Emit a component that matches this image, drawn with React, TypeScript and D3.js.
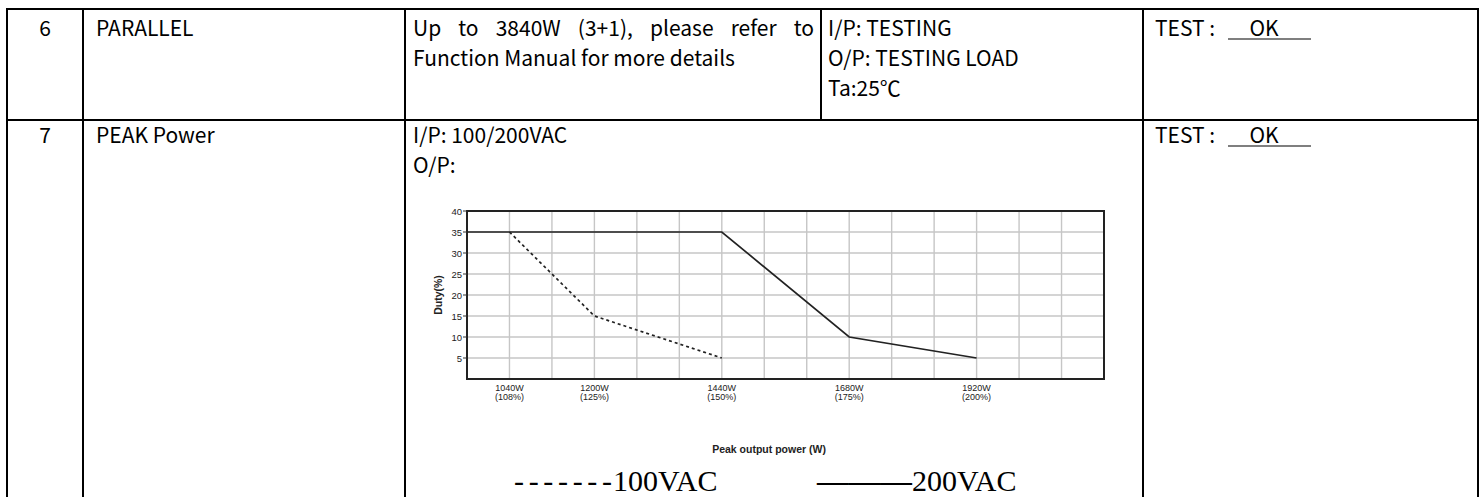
import React, { useEffect, useRef } from 'react';
import * as d3 from 'd3';

// ---------- data ----------
const xTickPower = [1040, 1200, 1440, 1680, 1920];
const xTickLabels = ['1040W', '1200W', '1440W', '1680W', '1920W'];
const xTickPct = ['(108%)', '(125%)', '(150%)', '(175%)', '(200%)'];
const yTicks = [5, 10, 15, 20, 25, 30, 35, 40];
const power100 = [1040, 1200, 1440];
const duty100 = [35, 15, 5];
const power200 = [960, 1440, 1680, 1920];
const duty200 = [35, 35, 10, 5];
const xDomain = [960, 2160];
const yDomain = [0, 40];
const xGridStep = 80;

const row1Items = ['6', 'PARALLEL'];
const row1Spec1 = ['Up', 'to', '3840W', '(3+1),', 'please', 'refer', 'to'];
const row1Spec2 = 'Function Manual for more details';
const row1Cond = ['I/P: TESTING', 'O/P: TESTING LOAD', 'Ta:25℃'];
const row2Items = ['7', 'PEAK Power'];
const row2Spec = ['I/P: 100/200VAC', 'O/P:'];
const resultLabel = 'TEST :';
const resultValue = 'OK';
const legendLabels = ['100VAC', '200VAC'];
const legendDash = ['-------', '———'];

const W = 1480, H = 497;
const TABLE_FONT = "'Noto Sans CJK TC', 'Noto Sans', sans-serif";
const CHART_FONT = "'Liberation Sans Narrow', 'Liberation Sans', Arial, sans-serif";

export default function App() {
  const ref = useRef<SVGSVGElement>(null);
  useEffect(() => {
    const svg = d3.select(ref.current);
    svg.selectAll('*').remove();

    // ---------- table ----------
    const colX = [7, 83, 405, 821, 1143, 1478];
    const rowY = [9, 120];
    const g = svg.append('g');
    const lw = 2;
    rowY.forEach((y) => {
      g.append('line').attr('x1', colX[0] - 1).attr('x2', colX[5] + 1).attr('y1', y).attr('y2', y)
        .attr('stroke', '#000').attr('stroke-width', lw);
    });
    colX.forEach((x, i) => {
      const y2 = i === 3 ? rowY[1] : H;
      g.append('line').attr('x1', x).attr('x2', x).attr('y1', rowY[0] - 1).attr('y2', y2)
        .attr('stroke', '#000').attr('stroke-width', lw);
    });

    const FS = 21;
    const txt = (x: number, y: number, s: string, anchor = 'start') =>
      g.append('text').attr('x', x).attr('y', y).attr('text-anchor', anchor)
        .attr('dominant-baseline', 'central')
        .attr('font-family', TABLE_FONT).attr('font-size', FS).attr('fill', '#000').text(s);

    const lineY1 = [27, 57, 87];
    const lineY2 = [134, 164];
    txt((colX[0] + colX[1]) / 2, lineY1[0], row1Items[0], 'middle');
    txt(96, lineY1[0], row1Items[1]);
    // justified first line
    const left = 413, right = 814;
    const words = row1Spec1.map((w) => txt(0, lineY1[0], w));
    const widths = words.map((w) => (w.node() as SVGTextElement).getComputedTextLength());
    const total = d3.sum(widths);
    const gap = (right - left - total) / (words.length - 1);
    let cx = left;
    words.forEach((w, i) => { w.attr('x', cx); cx += widths[i] + gap; });
    txt(left, lineY1[1], row1Spec2);
    row1Cond.forEach((s, i) => txt(828, lineY1[i], s));
    // result
    const res = (y: number) => {
      txt(1155, y, resultLabel);
      txt(1264, y, resultValue, 'middle');
      g.append('line').attr('x1', 1228).attr('x2', 1311).attr('y1', y + 12).attr('y2', y + 12)
        .attr('stroke', '#000').attr('stroke-width', 1.2);
    };
    res(lineY1[0]);
    res(lineY2[0]);

    txt((colX[0] + colX[1]) / 2, lineY2[0], row2Items[0], 'middle');
    txt(96, lineY2[0], row2Items[1]);
    row2Spec.forEach((s, i) => txt(413, lineY2[i], s));

    // ---------- chart ----------
    const x = d3.scaleLinear().domain(xDomain).range([467, 1104]);
    const y = d3.scaleLinear().domain(yDomain).range([379, 211]);
    const c = svg.append('g');
    const gridX = d3.range(xDomain[0] + xGridStep, xDomain[1], xGridStep);
    c.selectAll('.gx').data(gridX).join('line')
      .attr('x1', (d) => x(d)).attr('x2', (d) => x(d)).attr('y1', y(40)).attr('y2', y(0))
      .attr('stroke', '#c6c6c6').attr('stroke-width', 1.4);
    c.selectAll('.gy').data(yTicks.filter((d) => d < 40)).join('line')
      .attr('x1', x(xDomain[0])).attr('x2', x(xDomain[1])).attr('y1', (d) => y(d)).attr('y2', (d) => y(d))
      .attr('stroke', '#c6c6c6').attr('stroke-width', 1.4);
    // frame
    c.append('rect').attr('x', x(xDomain[0])).attr('y', y(40))
      .attr('width', x(xDomain[1]) - x(xDomain[0])).attr('height', y(0) - y(40))
      .attr('fill', 'none').attr('stroke', '#222').attr('stroke-width', 2);
    // y ticks
    c.selectAll('.yt').data(yTicks).join('line')
      .attr('x1', x(xDomain[0]) - 4).attr('x2', x(xDomain[0])).attr('y1', (d) => y(d)).attr('y2', (d) => y(d))
      .attr('stroke', '#333').attr('stroke-width', 1);
    c.selectAll('.yl').data(yTicks).join('text')
      .attr('x', x(xDomain[0]) - 5).attr('y', (d) => y(d)).attr('text-anchor', 'end')
      .attr('dominant-baseline', 'central').attr('font-family', CHART_FONT).attr('font-size', 9.5)
      .attr('fill', '#222').text((d) => d);
    // x labels
    c.selectAll('.xl').data(xTickPower).join('text')
      .attr('x', (d) => x(d)).attr('y', 388).attr('text-anchor', 'middle')
      .attr('dominant-baseline', 'central').attr('font-family', CHART_FONT).attr('font-size', 9)
      .attr('fill', '#222').text((d, i) => xTickLabels[i]);
    c.selectAll('.xp').data(xTickPower).join('text')
      .attr('x', (d) => x(d)).attr('y', 397).attr('text-anchor', 'middle')
      .attr('dominant-baseline', 'central').attr('font-family', CHART_FONT).attr('font-size', 9)
      .attr('fill', '#222').text((d, i) => xTickPct[i]);
    // axis titles
    c.append('text').attr('x', 769).attr('y', 449).attr('text-anchor', 'middle')
      .attr('dominant-baseline', 'central').attr('font-family', CHART_FONT).attr('font-size', 10.5)
      .attr('font-weight', 'bold').attr('fill', '#222').text('Peak output power (W)');
    c.append('text').attr('transform', `translate(438,${(y(0) + y(40)) / 2}) rotate(-90)`)
      .attr('text-anchor', 'middle').attr('dominant-baseline', 'central')
      .attr('font-family', CHART_FONT).attr('font-size', 10.5).attr('font-weight', 'bold')
      .attr('fill', '#222').text('Duty(%)');
    // series
    const line = d3.line<[number, number]>().x((d) => x(d[0])).y((d) => y(d[1]));
    c.append('path').attr('d', line(power200.map((p, i) => [p, duty200[i]]) as [number, number][]))
      .attr('fill', 'none').attr('stroke', '#222').attr('stroke-width', 1.7);
    c.append('path').attr('d', line(power100.map((p, i) => [p, duty100[i]]) as [number, number][]))
      .attr('fill', 'none').attr('stroke', '#222').attr('stroke-width', 1.7)
      .attr('stroke-dasharray', '3,3');

    // legend
    const lg = svg.append('g').attr('font-family', "'Liberation Serif', 'Times New Roman', serif")
      .attr('font-size', 30).attr('fill', '#000');
    lg.append('text').attr('x', 514).attr('y', 491).attr('textLength', 98)
      .attr('lengthAdjust', 'spacing').text(legendDash[0]);
    lg.append('text').attr('x', 613).attr('y', 491).text(legendLabels[0]);
    lg.append('text').attr('x', 817).attr('y', 491).attr('textLength', 95)
      .attr('lengthAdjust', 'spacingAndGlyphs').attr('font-weight', 'bold').text(legendDash[1]);
    lg.append('text').attr('x', 912).attr('y', 491).text(legendLabels[1]);
  }, []);

  return (
    <svg ref={ref} width={W} height={H}
      style={{ position: 'absolute', left: 0, top: 0, background: '#fff' }} />
  );
}
